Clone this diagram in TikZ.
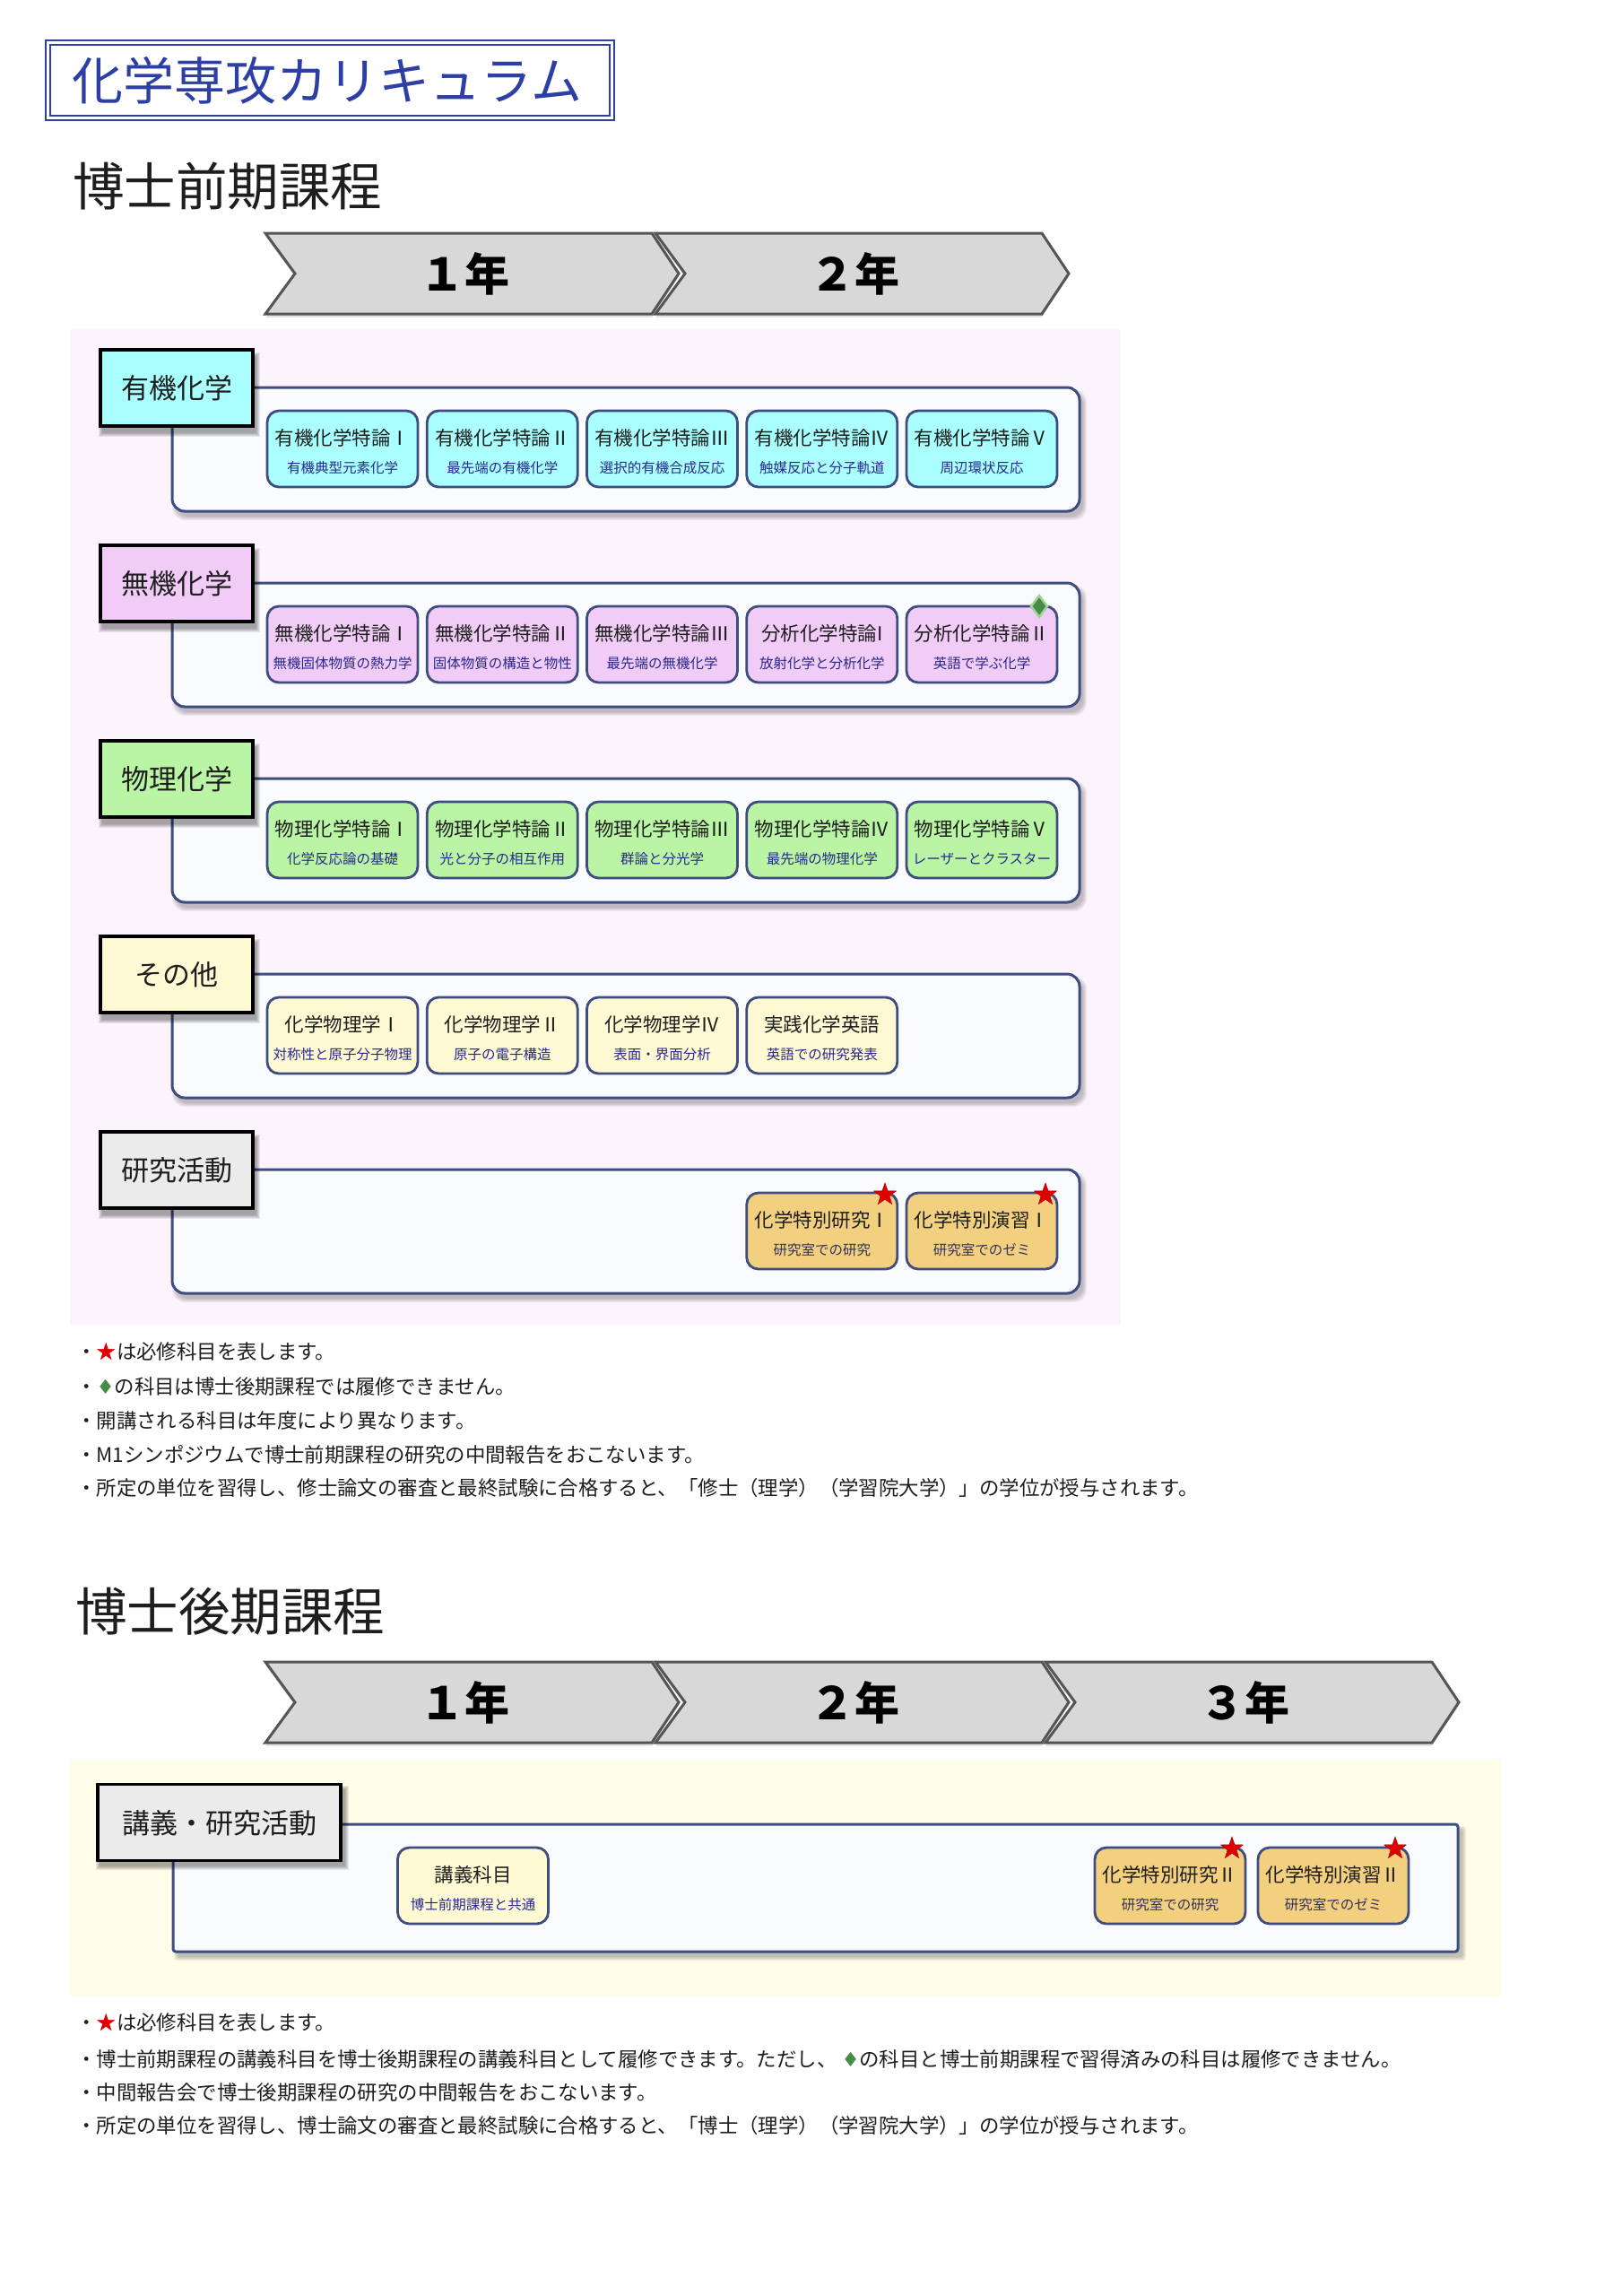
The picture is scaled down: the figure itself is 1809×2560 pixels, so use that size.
\documentclass[tikz,border=0pt]{standalone}
\usepackage{fontspec}
\setmainfont{Noto Sans CJK JP}
\newfontfamily\symf{DejaVu Sans}
\usetikzlibrary{shapes.geometric}
\definecolor{ttlblue}{RGB}{45,62,165}
\definecolor{pinkbg}{RGB}{252,244,252}
\definecolor{yelbg}{RGB}{254,253,234}
\definecolor{contfill}{RGB}{249,251,255}
\definecolor{contborder}{RGB}{62,76,128}
\definecolor{cborder}{RGB}{62,76,128}
\definecolor{subblue}{RGB}{40,40,140}
\definecolor{subgray}{RGB}{50,50,90}
\definecolor{cyanf}{RGB}{170,255,255}
\definecolor{pinkf}{RGB}{240,204,246}
\definecolor{greenf}{RGB}{186,245,166}
\definecolor{yellowf}{RGB}{255,250,212}
\definecolor{grayf}{RGB}{235,235,235}
\definecolor{orangef}{RGB}{243,208,128}
\definecolor{starred}{RGB}{222,0,0}
\definecolor{dgreen}{RGB}{70,140,70}
\definecolor{lgreen}{RGB}{160,210,150}
\definecolor{chevfill}{RGB}{216,216,216}
\definecolor{chevline}{RGB}{85,85,85}
\definecolor{ink}{RGB}{30,30,30}
\tikzset{
  txt/.style={inner sep=0pt,anchor=base,font=\fontsize{#1}{#1}\selectfont,yshift={-0.39*#1}},
  labbox/.style={draw=black,line width=3.5pt,minimum width=170pt,minimum height=85pt,inner sep=0pt},
  cbox/.style={draw=cborder,line width=2.8pt,rounded corners=13pt,minimum width=168pt,minimum height=85pt,inner sep=0pt},
  ctitle/.style={txt=21.5,text=ink},
  csub/.style={txt=15.5,text=subblue},
  cont/.style={draw=contborder,line width=3pt,fill=contfill,rounded corners=14pt,inner sep=0pt},
  notetxt/.style={txt=22.4,anchor=base west,text=ink},
  redstar/.style={star,star points=5,star point ratio=2.5,fill=starred,draw=starred!80!black,line width=.5pt,minimum size=26pt,inner sep=0pt},
  gdiam/.style={diamond,fill=dgreen,draw=lgreen,line width=2.5pt,minimum width=19pt,minimum height=25pt,inner sep=0pt}
}
% soft shadow: x1 y1 x2 y2 radius alpha
\newcommand\softsh[6]{%
  \foreach \k in {0,1,2,3,4}{%
    \fill[black,opacity=#6,rounded corners=#5pt] ({#1-\k},{#2-\k}) rectangle ({#3+\k},{#4+\k});
  }}
% course: name cx top fill title sub
\newcommand\crs[6]{%
  \node[cbox,fill=#4] (#1) at (#2,#3+42.5) {};
  \node[ctitle] (#1t) at (#2,#3+30) {#5};
  \node[csub] (#1s) at (#2,#3+63) {#6};
}
\newcommand\crsg[6]{%
  \node[cbox,fill=#4] (#1) at (#2,#3+42.5) {};
  \node[ctitle] (#1t) at (#2,#3+30) {#5};
  \node[csub,text=subgray] (#1s) at (#2,#3+63) {#6};
}
% label: name cx cy fill text
\newcommand\lab[5]{%
  \node[labbox,fill=#4] (#1) at (#2,#3) {};
  \node[txt=31,text=ink] (#1t) at (#1.center) {#5};
}
% chevron: name L top text
\newcommand\chev[4]{%
  \fill[black,opacity=.10] (#2,#3+4) -- (#2+431,#3+4) -- (#2+461,#3+49) -- (#2+431,#3+94) -- (#2,#3+94) -- (#2+33,#3+49) -- cycle;
  \draw[chevline,line width=3pt,fill=chevfill,line join=miter] (#2,#3) -- ++(431,0) -- ++(30,45) -- ++(-30,45) -- ++(-431,0) -- ++(33,-45) -- cycle;
  \node[txt=50,font=\fontsize{50}{50}\selectfont\bfseries,text=black] (#1) at (#2+222,#3+45) {#4};
}
\begin{document}
\begin{tikzpicture}[x=1pt,y=-1pt]
\useasboundingbox (0,0) rectangle (1809,2560);
\fill[white] (0,0) rectangle (1809,2560);

% title
\node[draw=ttlblue,line width=2pt,double=white,double distance=3pt,minimum width=629pt,minimum height=84pt,inner sep=0pt] (titlebox) at (368,89.5) {};
\node[txt=57,text=ttlblue] (titletext) at (365,89) {化学専攻カリキュラム};

% ===== 前期 =====
\node[txt=57.5,anchor=base west,text=ink] (h1) at (81,207) {博士前期課程};
\chev{ya1}{296}{260}{１年}
\chev{ya2}{731}{260}{２年}

\fill[pinkbg] (78,367) rectangle (1250,1478);

% row 1
\softsh{196}{438}{1208}{576}{14}{.05}
\node[cont,minimum width=1012pt,minimum height=138pt] (c1) at (698,501) {};
\softsh{114}{397}{286}{483}{0}{.08}
\lab{l1}{197}{432.5}{cyanf}{有機化学}
\crs{a1}{382}{458}{cyanf}{有機化学特論Ⅰ}{有機典型元素化学}
\crs{a2}{560.25}{458}{cyanf}{有機化学特論Ⅱ}{最先端の有機化学}
\crs{a3}{738.5}{458}{cyanf}{有機化学特論Ⅲ}{選択的有機合成反応}
\crs{a4}{916.75}{458}{cyanf}{有機化学特論Ⅳ}{触媒反応と分子軌道}
\crs{a5}{1095}{458}{cyanf}{有機化学特論Ⅴ}{周辺環状反応}

% row 2
\softsh{196}{656}{1208}{794}{14}{.05}
\node[cont,minimum width=1012pt,minimum height=138pt] (c2) at (698,719) {};
\softsh{114}{615}{286}{701}{0}{.08}
\lab{l2}{197}{650.5}{pinkf}{無機化学}
\crs{b1}{382}{676}{pinkf}{無機化学特論Ⅰ}{無機固体物質の熱力学}
\crs{b2}{560.25}{676}{pinkf}{無機化学特論Ⅱ}{固体物質の構造と物性}
\crs{b3}{738.5}{676}{pinkf}{無機化学特論Ⅲ}{最先端の無機化学}
\crs{b4}{916.75}{676}{pinkf}{分析化学特論I}{放射化学と分析化学}
\crs{b5}{1095}{676}{pinkf}{分析化学特論Ⅱ}{英語で学ぶ化学}
\node[gdiam] (d1) at (1159,676) {};

% row 3
\softsh{196}{874}{1208}{1012}{14}{.05}
\node[cont,minimum width=1012pt,minimum height=138pt] (c3) at (698,937) {};
\softsh{114}{833}{286}{919}{0}{.08}
\lab{l3}{197}{868.5}{greenf}{物理化学}
\crs{p1}{382}{894}{greenf}{物理化学特論Ⅰ}{化学反応論の基礎}
\crs{p2}{560.25}{894}{greenf}{物理化学特論Ⅱ}{光と分子の相互作用}
\crs{p3}{738.5}{894}{greenf}{物理化学特論Ⅲ}{群論と分光学}
\crs{p4}{916.75}{894}{greenf}{物理化学特論Ⅳ}{最先端の物理化学}
\crs{p5}{1095}{894}{greenf}{物理化学特論Ⅴ}{レーザーとクラスター}

% row 4
\softsh{196}{1092}{1208}{1230}{14}{.05}
\node[cont,minimum width=1012pt,minimum height=138pt] (c4) at (698,1155) {};
\softsh{114}{1051}{286}{1137}{0}{.08}
\lab{l4}{197}{1086.5}{yellowf}{その他}
\crs{o1}{382}{1112}{yellowf}{化学物理学Ⅰ}{対称性と原子分子物理}
\crs{o2}{560.25}{1112}{yellowf}{化学物理学Ⅱ}{原子の電子構造}
\crs{o3}{738.5}{1112}{yellowf}{化学物理学Ⅳ}{表面・界面分析}
\crs{o4}{916.75}{1112}{yellowf}{実践化学英語}{英語での研究発表}

% row 5
\softsh{196}{1310}{1208}{1448}{14}{.05}
\node[cont,minimum width=1012pt,minimum height=138pt] (c5) at (698,1373) {};
\softsh{114}{1269}{286}{1355}{0}{.08}
\lab{l5}{197}{1304.5}{grayf}{研究活動}
\crsg{r1}{916.75}{1330}{orangef}{化学特別研究Ⅰ}{研究室での研究}
\crsg{r2}{1095}{1330}{orangef}{化学特別演習Ⅰ}{研究室でのゼミ}
\node[redstar] (s1) at (987,1332) {};
\node[redstar] (s2) at (1166,1332) {};

% notes 前期
\node[notetxt] (n1) at (85,1507) {・{\color{starred}★}は必修科目を表します。};
\node[notetxt] (n2) at (85,1546) {・{\symf\color{dgreen}♦}の科目は博士後期課程では履修できません。};
\node[notetxt] (n3) at (85,1584) {・開講される科目は年度により異なります。};
\node[notetxt] (n4) at (85,1622) {・M1シンポジウムで博士前期課程の研究の中間報告をおこないます。};
\node[notetxt] (n5) at (85,1659) {・所定の単位を習得し、修士論文の審査と最終試験に合格すると、「修士（理学）（学習院大学）」の学位が授与されます。};

% ===== 後期 =====
\node[txt=57.5,anchor=base west,text=ink] (h2) at (84,1796) {博士後期課程};
\chev{yb1}{296}{1853}{１年}
\chev{yb2}{731}{1853}{２年}
\chev{yb3}{1166}{1853}{３年}

\fill[yelbg] (78,1962) rectangle (1674,2226);
\softsh{198}{2040}{1631}{2182}{3}{.05}
\node[cont,rounded corners=3pt,minimum width=1433pt,minimum height=142pt] (c6) at (909.5,2105) {};
\softsh{111}{1995}{385}{2081}{0}{.08}
\node[labbox,fill=grayf,minimum width=271pt] (l6) at (244.5,2032) {};
\node[txt=31,text=ink] (l6t) at (l6.center) {講義・研究活動};
\crs{k1}{527.5}{2060}{yellowf}{講義科目}{博士前期課程と共通}
\crsg{k2}{1305}{2060}{orangef}{化学特別研究Ⅱ}{研究室での研究}
\crsg{k3}{1487}{2060}{orangef}{化学特別演習Ⅱ}{研究室でのゼミ}
\node[redstar] (s3) at (1374,2061) {};
\node[redstar] (s4) at (1556,2061) {};

% notes 後期
\node[notetxt] (m1) at (85,2255) {・{\color{starred}★}は必修科目を表します。};
\node[notetxt] (m2) at (85,2296) {・博士前期課程の講義科目を博士後期課程の講義科目として履修できます。ただし、 {\symf\color{dgreen}♦}の科目と博士前期課程で習得済みの科目は履修できません。};
\node[notetxt] (m3) at (85,2333) {・中間報告会で博士後期課程の研究の中間報告をおこないます。};
\node[notetxt] (m4) at (85,2370) {・所定の単位を習得し、博士論文の審査と最終試験に合格すると、「博士（理学）（学習院大学）」の学位が授与されます。};
\end{tikzpicture}
\end{document}
